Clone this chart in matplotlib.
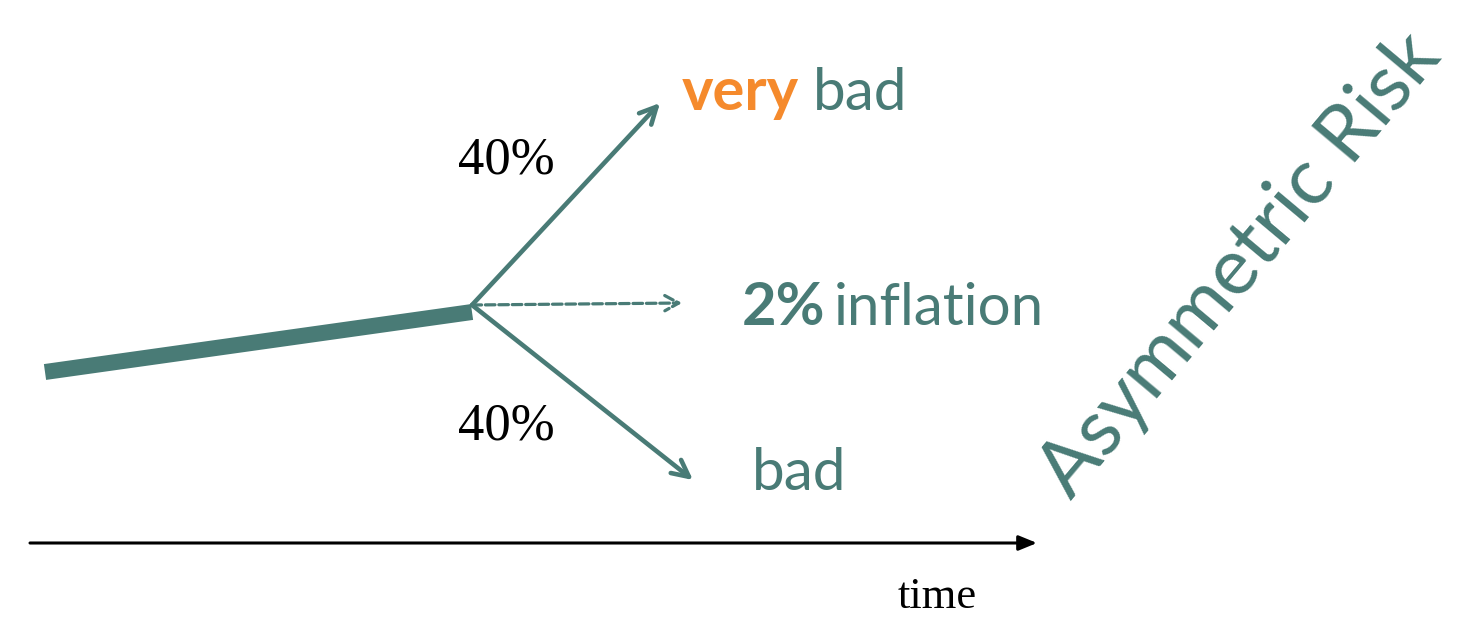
import matplotlib.pyplot as plt

teal = "#497b76"
orange = "#f58a2c"

# path so far (pixel-like coordinates, y grows downward)
trend_x = [45, 472]
trend_y = [372, 312]
node = (472, 305)

# branches: end point, dashed or not
branch_names = ["very bad", "2% inflation", "bad"]
branch_end_x = [660, 682, 693]
branch_end_y = [103, 303, 480]
branch_dashed = [False, True, False]

probs = ["40%", "40%"]
prob_x = [506, 506]
prob_y = [160, 427]

fig = plt.figure(figsize=(14.67, 6.18), dpi=100)
ax = fig.add_axes([0, 0, 1, 1])
ax.set_xlim(0, 1467)
ax.set_ylim(618, 0)
ax.axis("off")

# thick trend line
ax.plot(trend_x, trend_y, color=teal, lw=11.5, solid_capstyle="butt")

# branches
for ex, ey, dashed in zip(branch_end_x, branch_end_y, branch_dashed):
    if dashed:
        ax.annotate("", xy=(ex, ey), xytext=node,
                    arrowprops=dict(arrowstyle="->,head_length=1.0,head_width=0.55",
                                    color=teal, lw=2.3, linestyle=(0, (3, 1.2)),
                                    shrinkA=0, shrinkB=0))
    else:
        ax.annotate("", xy=(ex, ey), xytext=node,
                    arrowprops=dict(arrowstyle="->,head_length=1.2,head_width=0.6",
                                    color=teal, lw=3.3, shrinkA=0, shrinkB=0))

# time axis
ax.annotate("", xy=(1037, 543), xytext=(30, 543),
            arrowprops=dict(arrowstyle="-|>,head_length=1.1,head_width=0.45",
                            color="black", lw=2.2, shrinkA=0, shrinkB=0))
ax.text(937, 608, "time", fontsize=32, family="Liberation Serif", ha="center", va="baseline")

for p, px, py in zip(probs, prob_x, prob_y):
    ax.text(px, py, p, fontsize=38, family="Liberation Serif", ha="center", va="center")

sans = "Lato"
ax.text(682, 110, "very", fontsize=43, family=sans, weight="bold", color=orange, va="baseline")
ax.text(813, 110, "bad", fontsize=42, family=sans, color=teal, va="baseline")
ax.text(742, 325, "2%", fontsize=43, family=sans, weight="bold", color=teal, va="baseline")
ax.text(834, 325, "inflation", fontsize=42, family=sans, color=teal, va="baseline")
ax.text(752, 490, "bad", fontsize=42, family=sans, color=teal, va="baseline")

ax.text(1240, 265, "Asymmetric Risk", fontsize=57, family=sans, color=teal,
        rotation=50, ha="center", va="center", rotation_mode="anchor")

fig.savefig("out.png", dpi=100)
